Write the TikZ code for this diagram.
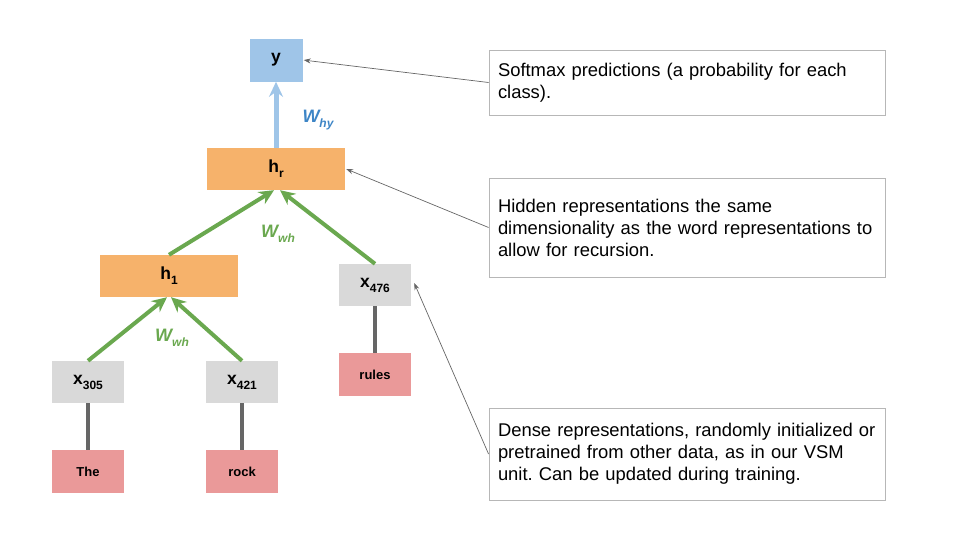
\documentclass[tikz,border=0pt]{standalone}
\usepackage{fontspec}
\setmainfont{Liberation Sans}
\usetikzlibrary{positioning, arrows.meta}
\definecolor{predblue}{HTML}{9FC5E8}
\definecolor{wblue}{HTML}{3D85C6}
\definecolor{hidorange}{HTML}{F6B26B}
\definecolor{vecgray}{HTML}{D9D9D9}
\definecolor{wordred}{HTML}{EA9999}
\definecolor{wgreen}{HTML}{6AA84F}
\definecolor{stemgray}{HTML}{666666}
\definecolor{notegray}{HTML}{B7B7B7}
\frenchspacing

% low subscript as in the slides
\newcommand{\lowsub}[1]{\raisebox{-5pt}{\fontsize{12}{12}\selectfont #1}}

\tikzset{
  box/.style={rectangle, inner sep=0pt, font=\fontsize{17.5}{19}\selectfont\bfseries},
  pred/.style={box, fill=predblue, minimum width=53pt, minimum height=43pt},
  hid/.style={box, fill=hidorange, minimum width=138pt, minimum height=42pt},
  vec/.style={box, fill=vecgray, minimum width=72pt, minimum height=42pt},
  word/.style={box, fill=wordred, minimum width=72pt, minimum height=43pt,
    font=\fontsize{13}{15}\selectfont\bfseries},
  note/.style={rectangle, draw=notegray, line width=0.9pt, minimum width=396pt,
    text width=378pt, align=left, inner sep=9pt,
    font=\fontsize{18.4}{22}\selectfont},
  compose/.style={-{Stealth[length=15pt, width=14pt, inset=5pt]}, wgreen, line width=4pt},
  stem/.style={stemgray, line width=4.5pt},
  pointer/.style={-{Stealth[length=7pt, width=5pt]}, stemgray, line width=0.7pt},
  wlabel/.style={font=\fontsize{18}{19}\selectfont\bfseries\itshape}
}

\begin{document}
\begin{tikzpicture}[x=1pt, y=-1pt, node distance=47pt]
  \useasboundingbox (0,0) rectangle (960,540);

  % tree nodes
  \node[hid] (hr) at (276,169) {h\lowsub{r}};
  \node[pred, above=66pt of hr] (y) {y};
  \node[hid] (h1) at (169,276) {h\lowsub{1}};
  \node[vec] (x476) at (375,285) {x\lowsub{476}};
  \node[vec] (x305) at (88,382) {x\lowsub{305}};
  \node[vec] (x421) at (242,382) {x\lowsub{421}};
  \node[word, below=of x305] (the) {The};
  \node[word, below=of x421] (rock) {rock};
  \node[word, below=of x476] (rules) {rules};

  % embeddings lookup
  \draw[stem] (x305) -- (the);
  \draw[stem] (x421) -- (rock);
  \draw[stem] (x476) -- (rules);

  % composition
  \draw[compose] (x305.north) -- ([xshift=-2pt]h1.south);
  \draw[compose] (x421.north) -- ([xshift=2pt]h1.south);
  \draw[compose] (h1.north) -- ([xshift=-2pt]hr.south);
  \draw[compose] (x476.north) -- ([xshift=4pt]hr.south);
  \draw[-{Stealth[length=15pt, width=14pt, inset=5pt]}, predblue, line width=5pt]
    (hr.north) -- (y.south);

  \node[wlabel, wgreen] (wwh1) at (172,338) {W\lowsub{wh}};
  \node[wlabel, wgreen] (wwh2) at (278,234) {W\lowsub{wh}};
  \node[wlabel, wblue] (why) at (318,120) {W\lowsub{hy}};

  % notes
  \node[note, minimum height=65pt] (n1) at (687,82.5) {Softmax predictions (a probability for each\\class).};
  \node[note, minimum height=99pt] (n2) at (687,227.5) {Hidden representations the same\\dimensionality as the word representations to\\allow for recursion.};
  \node[note, minimum height=92pt] (n3) at (687,454) {Dense representations, randomly initialized or\\pretrained from other data, as in our VSM\\unit. Can be updated during training.};

  \draw[pointer] (n1.west) -- ([xshift=1pt]y.east);
  \draw[pointer] (n2.west) -- ([xshift=1pt]hr.east);
  \draw[pointer] (n3.west) -- ([xshift=3pt, yshift=2pt]x476.east);
\end{tikzpicture}
\end{document}
